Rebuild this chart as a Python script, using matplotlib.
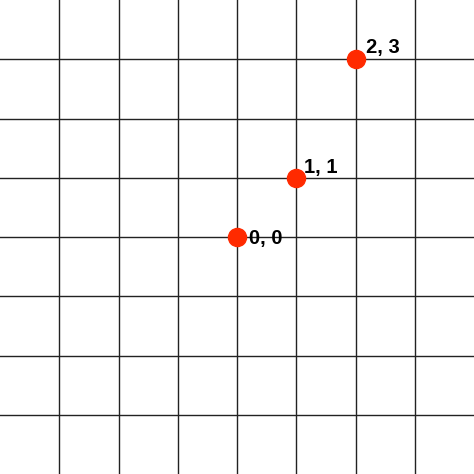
import numpy as np
import matplotlib.pyplot as plt

xs = [0, 1, 2]
ys = [0, 1, 3]
labels = ['0, 0', '1, 1', '2, 3']
offsets = [(12, -7), (8, 5), (10, 6)]

fig = plt.figure(figsize=(4.74, 4.74), dpi=100)
ax = fig.add_axes([0, 0, 1, 1])
ax.set_xlim(-4, 4)
ax.set_ylim(-4, 4)
ax.set_xticks(np.arange(-3, 4))
ax.set_yticks(np.arange(-3, 4))
ax.grid(True, color='#222222', linewidth=1)
ax.tick_params(length=0, labelbottom=False, labelleft=False)
for s in ax.spines.values():
    s.set_visible(False)

ax.plot(xs, ys, 'o', color='#ff2a00', markersize=13, zorder=3)
for x, y, t, off in zip(xs, ys, labels, offsets):
    ax.annotate(t, (x, y), xytext=off, textcoords='offset pixels',
                fontsize=14.5, fontweight='bold', family='Liberation Sans',
                ha='left', va='baseline', zorder=4)

fig.savefig('out.png', dpi=100)
